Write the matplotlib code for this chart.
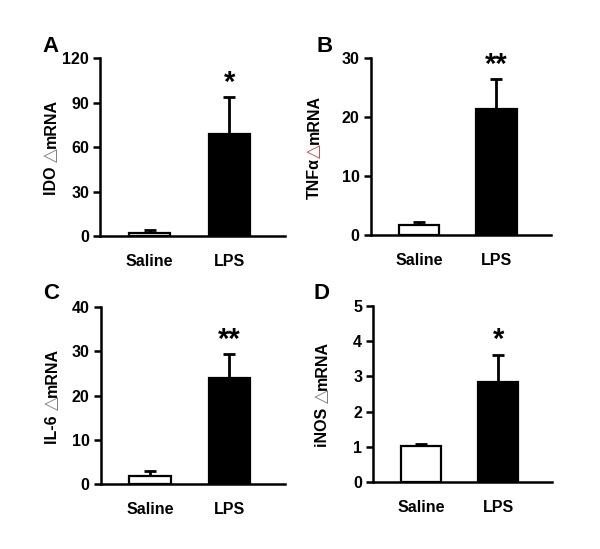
import matplotlib.pyplot as plt

plt.rcParams['font.family'] = ['Liberation Sans', 'DejaVu Sans']
plt.rcParams['font.weight'] = 'bold'

groups = ['Saline', 'LPS']
panels = ['A', 'B', 'C', 'D']
genes = ['IDO ', 'TNFα', 'IL-6 ', 'iNOS ']
means = [[2.2, 68.8], [1.7, 21.4], [1.95, 24.0], [1.03, 2.83]]
errs = [[2.1, 24.7], [0.5, 5.0], [1.05, 5.3], [0.05, 0.77]]
stars = ['*', '**', '**', '*']
ymax = [120, 30, 40, 5]
ystep = [30, 10, 10, 1]
delta_colors = ['#808080', '#c05050', '#808080', '#808080']

# axes rectangles in figure fraction
rects = [[0.167, 0.570, 0.308, 0.324],
         [0.618, 0.572, 0.300, 0.322],
         [0.168, 0.118, 0.307, 0.323],
         [0.622, 0.122, 0.298, 0.321]]
label_xy = [(0.070, 0.916), (0.528, 0.916), (0.072, 0.466), (0.522, 0.466)]
ylab_x = [0.085, 0.524, 0.087, 0.537]

fig = plt.figure(figsize=(6, 5.49), dpi=100)
axes = []
for i in range(4):
    ax = fig.add_axes(rects[i])
    axes.append(ax)
    x = [0, 1]
    ax.bar(x, means[i], width=0.52, color=['white', 'black'],
           edgecolor='black', linewidth=1.6, zorder=2)
    ax.errorbar(x, means[i], yerr=[[0, 0], errs[i]], fmt='none',
                ecolor='black', elinewidth=2, capsize=4.5, capthick=2, zorder=1)
    top = means[i][1] + errs[i][1]
    ax.text(1, top + ymax[i] * 0.005, stars[i], ha='center', va='bottom',
            fontsize=21, fontweight='bold')
    ax.set_xlim(-0.62, 1.7)
    ax.set_ylim(0, ymax[i])
    ax.set_yticks(range(0, ymax[i] + 1, ystep[i]))
    ax.set_xticks(x)
    ax.set_xticklabels(groups, fontsize=11.5, fontweight='bold')
    ax.tick_params(axis='x', length=0, pad=13)
    ax.tick_params(axis='y', length=5, width=1.8, labelsize=11.5, pad=3)
    for lab in ax.get_yticklabels():
        lab.set_fontweight('bold')
    ax.spines['top'].set_visible(False)
    ax.spines['right'].set_visible(False)
    ax.spines['left'].set_linewidth(1.8)
    ax.spines['bottom'].set_linewidth(1.8)
    ax.spines['left'].set_zorder(3)
    ax.spines['bottom'].set_zorder(3)
    fig.text(label_xy[i][0], label_xy[i][1], panels[i], fontsize=16,
             fontweight='bold', ha='left', va='center')

# y labels built from pieces so the delta sign can be thin and grey
fig.canvas.draw()
renderer = fig.canvas.get_renderer()
for i, ax in enumerate(axes):
    parts = [(genes[i], 'black', 'bold', 11.5),
             ('△', delta_colors[i], 'normal', 13),
             ('mRNA', 'black', 'bold', 11.5)]
    texts = []
    for s, c, w, fs in parts:
        t = fig.text(0, 0, s, rotation=90, color=c, fontweight=w, fontsize=fs,
                     ha='center', va='bottom')
        texts.append(t)
    heights = [t.get_window_extent(renderer).height for t in texts]
    total = sum(heights)
    bb = ax.get_window_extent(renderer)
    yc = (bb.y0 + bb.y1) / 2
    y = yc - total / 2
    H = fig.bbox.height
    for t, h in zip(texts, heights):
        t.set_position((ylab_x[i], y / H))
        y += h

fig.savefig('out.png', dpi=100)
